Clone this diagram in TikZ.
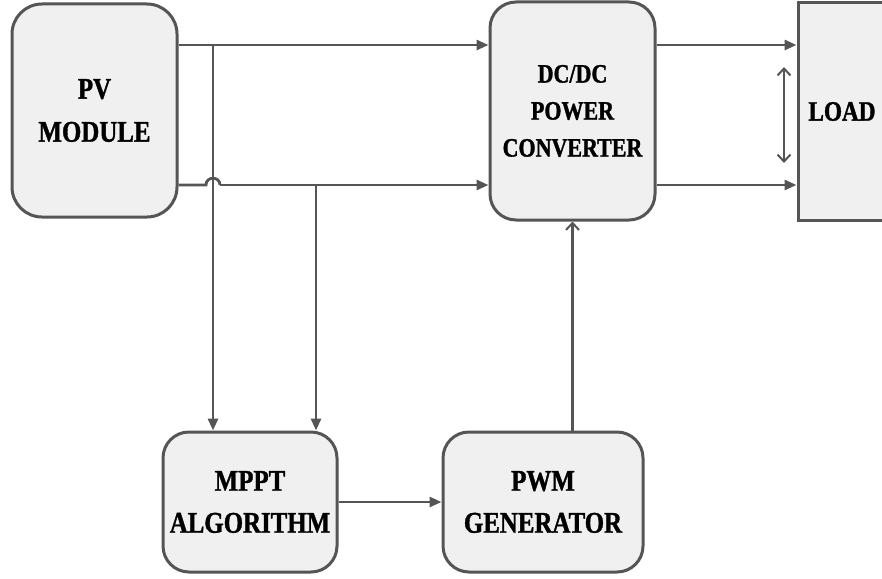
\documentclass[tikz,border=0pt]{standalone}
\usepackage{fontspec}
\setmainfont{Liberation Serif}[FakeStretch=0.83,BoldFeatures={FakeBold=1.2}]
\usetikzlibrary{arrows.meta,calc}
\definecolor{edge}{HTML}{555555}
\definecolor{boxfill}{HTML}{F0F0F0}
\begin{document}
\begin{tikzpicture}[x=1pt,y=-1pt,
  block/.style={draw=edge,fill=boxfill,line width=3pt,align=center,
    font=\bfseries,inner sep=0pt},
  rblock/.style={block,rounded corners=26pt},
  conn/.style={draw=edge,line width=2.8pt},
  fill arrow/.style={conn,-{Triangle[length=12pt,width=10pt]}},
  open arrow/.style={conn,-{Straight Barb[length=7pt,width=13pt,line width=2pt]}},
  both arrow/.style={draw=edge,line width=2pt,
    {Straight Barb[length=7pt,width=13pt]}-{Straight Barb[length=7pt,width=13pt]}}]
\clip (0,0) rectangle (882,578);
\fill[white] (0,0) rectangle (882,578);

% blocks
\node[rblock,rounded corners=30pt,minimum width=165pt,minimum height=213pt,
  font=\bfseries\fontsize{30}{43}\selectfont] (pv) at (94.5,110.5) {PV\\MODULE};
\node[rblock,minimum width=165pt,minimum height=218pt,
  font=\bfseries\fontsize{26.5}{37}\selectfont] (dc) at (572.5,111) {DC/DC\\POWER\\CONVERTER};
\node[block,minimum width=88pt,minimum height=217pt,
  font=\bfseries\fontsize{28}{40}\selectfont] (load) at (842,111.5) {LOAD};
\node[rblock,minimum width=174pt,minimum height=140pt,
  font=\bfseries\fontsize{30}{42}\selectfont] (mppt) at (250,502) {MPPT\\ALGORITHM};
\node[rblock,minimum width=200pt,minimum height=140pt,
  font=\bfseries\fontsize{30}{42}\selectfont] (pwm) at (543,502) {PWM\\GENERATOR};

% rails between the blocks
\coordinate (railA) at (0,45);
\coordinate (railB) at (0,185);
\coordinate (tapA) at (213,45);
\coordinate (tapB) at (316,185);
\coordinate (hopL) at (206,185);
\coordinate (hopR) at (220,185);

\draw[fill arrow] (pv.east |- railA) -- (dc.west |- railA);
\draw[conn] (pv.east |- railB) -- (hopL)
  .. controls ($(hopL)+(0,-9)$) and ($(hopR)+(0,-9)$) .. (hopR);
\draw[fill arrow] (hopR) -- (dc.west |- railB);

\draw[fill arrow] (dc.east |- railA) -- (load.west |- railA);
\draw[fill arrow] (dc.east |- railB) -- (load.west |- railB);

% voltage across the load
\coordinate (vtop) at (784,67);
\coordinate (vbot) at (784,163);
\draw[both arrow] (vtop) -- (vbot);

% sensing lines to the tracker
\draw[fill arrow] (tapA) -- (mppt.north -| tapA);
\draw[fill arrow] (tapB) -- (mppt.north -| tapB);

% control path
\draw[fill arrow] (mppt.east) -- (pwm.west);
\draw[open arrow] (dc.south |- pwm.north) -- (dc.south);
\end{tikzpicture}
\end{document}
